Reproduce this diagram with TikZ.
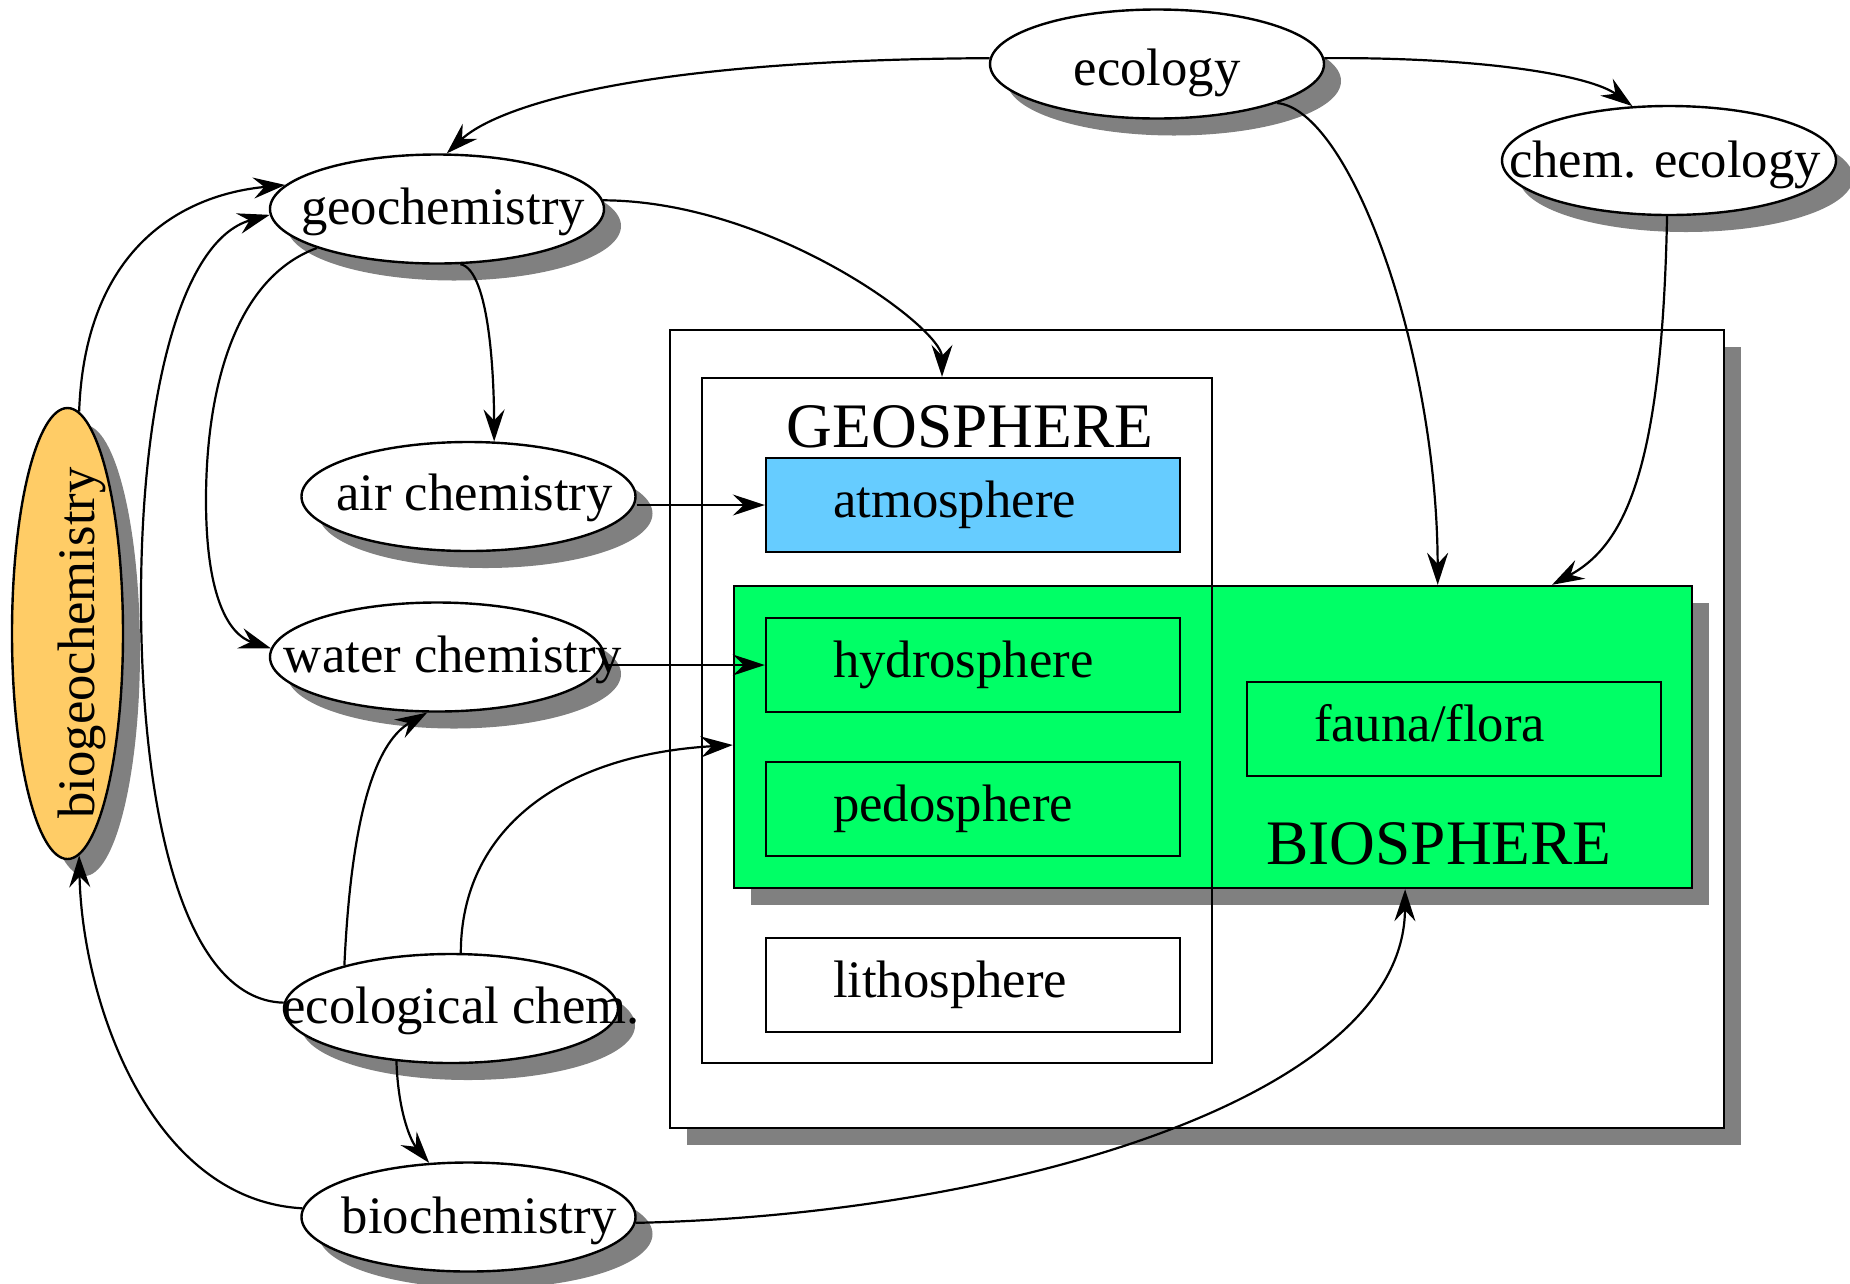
\documentclass[tikz,border=0pt]{standalone}
\usepackage{fontspec}
\setmainfont{Liberation Serif}
\usetikzlibrary{shapes.geometric,arrows.meta,shadows,calc}
\definecolor{skyfill}{HTML}{66CCFF}
\definecolor{biofill}{HTML}{00FF66}
\definecolor{bgfill}{HTML}{FFCC66}
\definecolor{shade}{HTML}{808080}
% zero-size label: text centre shifted right by half of #1, baseline #2 below the centre (bp)
\newcommand\elabel[3]{\raisebox{-#2bp}[0pt][0pt]{\makebox[0pt]{\hspace*{#1bp}#3}}}

\begin{document}
\begin{tikzpicture}[x=1bp,y=-1bp,
  font=\fontsize{52.7bp}{60bp}\selectfont,
  shadowed/.style={drop shadow={shadow xshift=17bp,shadow yshift=-17bp,fill=shade,opacity=1}},
  topic/.style={ellipse,draw,line width=2.4bp,fill=white,minimum width=334bp,
    minimum height=109bp,inner sep=0pt,shadowed},
  sphere/.style={rectangle,draw,line width=2.4bp,minimum width=414bp,minimum height=94bp,
    inner sep=0pt,text width=280bp,align=left,text height=36bp,text depth=11bp},
  frame/.style={rectangle,draw,line width=2.4bp,inner sep=0pt},
  link/.style={line width=2.2bp,-{Stealth[length=32bp,width=21bp,inset=11bp]}},
  spherelabel/.style={font=\fontsize{63.4bp}{70bp}\selectfont,inner sep=0pt}
]
\useasboundingbox (0,0) rectangle (1850,1283);

% the Earth system frame and its parts
\node[frame,fill=white,shadowed,minimum width=1054bp,minimum height=798bp] (world) at (1197,729) {};
\node[frame,fill=biofill,shadowed,minimum width=958bp,minimum height=302bp] (bio) at (1213,737) {};
\node[frame,minimum width=510bp,minimum height=685bp] (gs) at (957,720.5) {};
\node[sphere,fill=skyfill] (atm) at (973,505) {atmosphere};
\node[sphere,fill=biofill] (hydro) at (973,665) {hydrosphere};
\node[sphere,fill=biofill] (pedo) at (973,809) {pedosphere};
\node[sphere,fill=white] (litho) at (973,985) {lithosphere};
\node[sphere,fill=biofill] (fauna) at (1454,729) {fauna/flora};
\node[spherelabel,anchor=base] (gslabel) at (970,447) {GEOSPHERE};
\node[spherelabel,anchor=base] (bslabel) at (1439,864) {BIOSPHERE};

% disciplines
\node[topic] (eco) at (1157,64) {\elabel{0}{21}{ecology}};
\node[topic] (checo) at (1669,160.5) {\elabel{-8}{17}{chem. ecology}};
\node[topic] (geo) at (437,209) {\elabel{12}{15}{geochemistry}};
\node[topic] (air) at (468.5,496.5) {\elabel{12}{14}{air chemistry}};
\node[topic] (water) at (437,657) {\elabel{32}{15.5}{water chemistry}};
\node[topic] (ecochem) at (451,1008.5) {\elabel{20}{14.8}{ecological chem.}};
\node[topic] (bioc) at (468.5,1217) {\elabel{22}{16}{biochemistry}};
\node[topic,fill=bgfill,minimum width=111bp,minimum height=451bp] (bg) at (67.5,633.5) {};
\node[rotate=90,inner sep=0pt] (bgtext) at (82,643) {biogeochemistry};

% relations
\draw[link] (eco.178) .. controls (601,60) and (487,115) .. (geo.80);
\draw[link] (eco.2) .. controls (1480,57) and (1590,75) .. (checo.124);
\draw[link] (eco.-18) .. controls (1350,110) and (1437,350) .. ($(bio.north west)!0.734!(bio.north east)$);
\draw[link] (checo.-92) .. controls (1662,470) and (1625,545) .. ($(bio.north west)!0.853!(bio.north east)$);
\draw[link] (geo.-67) .. controls (490,270) and (494,380) .. (air.65);
\draw[link] (geo.3) .. controls (772,201) and (942,328) .. ($(gs.north)+(-15,0)$);
\draw[link] (geo.198) .. controls (230,280) and (206,400) .. (206,500)
  .. controls (206,600) and (230,635) .. (water.177);
\draw[link] (air.east |- atm.west) -- (atm.west);
\draw[link] (water.east |- hydro.west) -- (hydro.west);
\draw[link] (ecochem.158) .. controls (352,800) and (380,740) .. (water.-100);
\draw[link] (ecochem.80) .. controls (461,830) and (560,755) .. ($(bio.west)+(0,8)$);
\draw[link] (ecochem.-136) .. controls (398,1110) and (410,1140) .. (bioc.126);
\draw[link] (bioc.-2) .. controls (1000,1215) and (1404,1100) .. ($(bio.south west)!0.7!(bio.south east)$);
\draw[link] (bioc.177) .. controls (150,1200) and (82,1000) .. (bg.-87);
\draw[link] (bg.87) .. controls (85,250) and (180,195) .. (geo.171);
\draw[link] (ecochem.178) .. controls (180,1000) and (141,800) .. (141,600)
  .. controls (141,400) and (180,240) .. (geo.182);
\end{tikzpicture}
\end{document}
